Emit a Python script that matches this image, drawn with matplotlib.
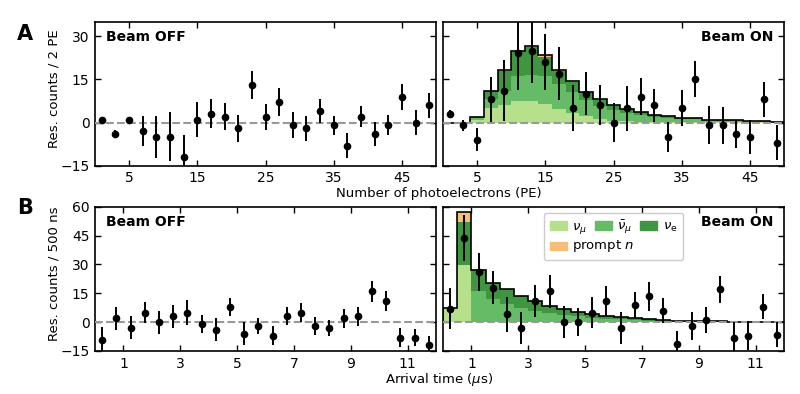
import numpy as np
import matplotlib
matplotlib.use("Agg")
import matplotlib.pyplot as plt
from matplotlib.patches import Patch

# -----------------------------
# DATA
# -----------------------------
pe_edges = np.arange(0, 51, 2)
pe_centers = pe_edges[:-1] + 1

t_edges = np.arange(0, 12.01, 0.5)
t_centers = t_edges[:-1] + 0.25

# A: residual counts vs PE
pe_off_y = [1, -4, 1, -3, -5, -5, -12, 1, 3, 2, -2, 13, 2, 7, -1, -2, 4, -1, -8, 2, -4, -1, 9, 0, 6]
pe_off_err = [0.5, 1.5, 0.5, 5.3, 7.3, 8.5, 7.7, 6.2, 5, 4.7, 4.6, 4.9, 4.5, 4.9, 4.5, 4.3, 4.2, 3.2, 4.3, 3.6, 4.3, 3.5, 4.5, 4.4, 4.4]
pe_on_y = [3, -1, -6, 8, 11, 24, 25, 21, 17, 5, 10, 6, 0, 5, 9, 6, -5, 5, 15, -1, -1, -4, -5, 8, -7]
pe_on_err = [1.5, 2, 4, 7.8, 10.6, 12.7, 11.3, 9.8, 9.1, 8, 7.5, 6.9, 6.6, 7.8, 6.5, 5.8, 5.3, 6.3, 6.2, 6.6, 6.3, 4.9, 6, 6, 6.1]

pe_numu = [0, 0, 1.0, 5.0, 6.1, 7.6, 7.6, 6.5, 4.7, 3.2, 2.1, 1.2, 0.6, 0.4, 0.3, 0.2, 0.15, 0.1, 0.1, 0.1, 0.05, 0.05, 0.05, 0.03, 0.02]
pe_numubar = [0, 0, 0.5, 3.0, 4.9, 8.4, 8.9, 9.5, 8.8, 7.3, 5.7, 4.4, 3.8, 3.0, 2.3, 1.8, 1.45, 1.1, 0.95, 0.65, 0.55, 0.45, 0.33, 0.23, 0.13]
pe_nue = [0, 0, 0.3, 3.0, 7.0, 8.5, 9.6, 6.9, 4.4, 3.6, 2.8, 2.35, 1.7, 1.2, 0.9, 0.7, 0.5, 0.4, 0.35, 0.25, 0.2, 0.2, 0.12, 0.09, 0.05]
pe_prompt_n = [0, 0, 0, 0, 0.1, 0.3, 0.4, 0.4, 0.3, 0.2, 0.1, 0.05, 0, 0, 0, 0, 0, 0, 0, 0, 0, 0, 0, 0, 0]

# B: residual counts vs arrival time
t_off_y = [-9.2, 2, -3, 5, 0, 3, 5, -1, -4, 8, -6, -2, -7, 3, 5, -2, -3, 2, 3, 16, 11, -8, -8, -12]
t_off_err = [6.5, 6, 6, 5.4, 6, 6, 6.3, 4.9, 6, 4.8, 6, 4.2, 4.8, 4.7, 5, 4.8, 4.2, 4.8, 4.8, 5.6, 5.3, 5, 4.3, 5]
t_on_y = [7, 43.7, 26, 18, 4, -3, 11, 16, 0, 0, 5, 11, -3, 9, 13.4, 6, -11.4, -2, 1, 17.2, -8, -7, 8, -6.5]
t_on_err = [10.6, 12, 10, 8.7, 9, 8.3, 8.2, 8.6, 8.4, 7.2, 8.3, 7.7, 8.3, 6.9, 7.5, 6.6, 7, 7.4, 6.8, 7, 8, 7.5, 6.5, 6.5]

t_numu = [7.5, 29.6, 0, 0, 0, 0, 0, 0, 0, 0, 0, 0, 0, 0, 0, 0, 0, 0, 0, 0, 0, 0, 0, 0]
t_numubar = [0, 0, 16.0, 11.8, 9.3, 7.5, 5.8, 4.8, 3.9, 3.1, 2.4, 1.8, 1.4, 1.05, 0.8, 0.62, 0.46, 0.34, 0.26, 0.2, 0.14, 0.11, 0.08, 0.06]
t_nue = [0, 22.4, 11.0, 8.7, 7.7, 6.1, 5.0, 3.8, 3.0, 2.4, 1.8, 1.4, 1.1, 0.85, 0.6, 0.48, 0.34, 0.26, 0.19, 0.15, 0.11, 0.09, 0.07, 0.04]
t_prompt_n = [0, 5.5, 0, 0, 0, 0, 0, 0, 0, 0, 0, 0, 0, 0, 0, 0, 0, 0, 0, 0, 0, 0, 0, 0]

c_numu = "#b6e08b"
c_numubar = "#66bb66"
c_nue = "#409640"
c_prompt = "#f6be78"


# -----------------------------
# HELPERS
# -----------------------------
def style_axes(ax, xticks, yticks, ylim, xlim):
    ax.set_xlim(*xlim)
    ax.set_ylim(*ylim)
    ax.set_xticks(xticks)
    ax.set_yticks(yticks)
    ax.tick_params(direction="in", top=True, right=True, length=4,
                   width=1, labelsize=10, pad=4)
    for s in ax.spines.values():
        s.set_linewidth(1.2)
    ax.axhline(0, color="#999999", ls="--", lw=1.5, zorder=3)


def stack(ax, edges, comps, colors):
    edges = np.asarray(edges)
    width = edges[1] - edges[0]
    bottom = np.zeros(len(edges) - 1)
    for vals, c in zip(comps, colors):
        vals = np.asarray(vals, dtype=float)
        ax.bar(edges[:-1], vals, width, bottom=bottom, align="edge",
               color=c, lw=0, zorder=1)
        bottom = bottom + vals
    ax.stairs(bottom, edges, color="k", lw=1.2, zorder=2)


def points(ax, x, y, err):
    ax.errorbar(x, y, yerr=err, fmt="o", color="k", ms=4.5,
                elinewidth=1.4, capsize=0, zorder=4)


# -----------------------------
# FIGURE
# -----------------------------
fig = plt.figure(figsize=(8, 3.94), dpi=100)

W, H = 800, 394
axw = 341 / W
ax_a_off = fig.add_axes([95 / W, 1 - 165.7 / H, axw, 144 / H])
ax_a_on = fig.add_axes([443 / W, 1 - 165.7 / H, axw, 144 / H])
ax_b_off = fig.add_axes([95 / W, 1 - 351 / H, axw, 144.3 / H])
ax_b_on = fig.add_axes([443 / W, 1 - 351 / H, axw, 144.3 / H])

# A
for ax in (ax_a_off, ax_a_on):
    style_axes(ax, [5, 15, 25, 35, 45], [-15, 0, 15, 30], (-15, 35), (0, 50))
ax_a_on.set_yticklabels([])

stack(ax_a_on, pe_edges, [pe_numu, pe_numubar, pe_nue, pe_prompt_n],
      [c_numu, c_numubar, c_nue, c_prompt])
points(ax_a_off, pe_centers, pe_off_y, pe_off_err)
points(ax_a_on, pe_centers, pe_on_y, pe_on_err)

# B
for ax in (ax_b_off, ax_b_on):
    style_axes(ax, [1, 3, 5, 7, 9, 11], [-15, 0, 15, 30, 45, 60], (-15, 60), (0, 12))
ax_b_on.set_yticklabels([])

stack(ax_b_on, t_edges, [t_numu, t_numubar, t_nue, t_prompt_n],
      [c_numu, c_numubar, c_nue, c_prompt])
points(ax_b_off, t_centers, t_off_y, t_off_err)
points(ax_b_on, t_centers, t_on_y, t_on_err)

# beam labels
for ax in (ax_a_off, ax_b_off):
    ax.text(0.032, 0.945, "Beam OFF", transform=ax.transAxes, ha="left",
            va="top", fontsize=10, fontweight="bold", zorder=5)
for ax in (ax_a_on, ax_b_on):
    ax.text(0.968, 0.945, "Beam ON", transform=ax.transAxes, ha="right",
            va="top", fontsize=10, fontweight="bold", zorder=5)

# legend: "prompt n" spills under the second column, so its label is
# written separately next to the orange patch
handles = [
    Patch(color=c_numu, label=r"$\nu_\mu$"),
    Patch(color=c_prompt, label=" "),
    Patch(color=c_numubar, label=r"$\bar{\nu}_\mu$"),
    Patch(color=c_nue, label=r"$\nu_\mathrm{e}$"),
]
leg = ax_b_on.legend(handles=handles, loc="upper center",
                     bbox_to_anchor=(0.5, 1.0), ncol=3,
                     fontsize=9.5, handlelength=1.3, handleheight=0.6,
                     handletextpad=0.4, columnspacing=0.6, labelspacing=0.35,
                     borderpad=0.45, borderaxespad=0.45, framealpha=1,
                     edgecolor="#cccccc")
leg.set_zorder(6)

fig.canvas.draw()
pbox = leg.get_patches()[1].get_window_extent()
fig.text(pbox.x1 + 5, (pbox.y0 + pbox.y1) / 2, r"prompt $n$",
         transform=None, ha="left", va="center", fontsize=9.5, zorder=7)

# axis labels
fig.text(54 / W, 1 - 89 / H, "Res. counts / 2 PE", rotation=90,
         ha="center", va="center", fontsize=9.5)
fig.text(54 / W, 1 - 274 / H, "Res. counts / 500 ns", rotation=90,
         ha="center", va="center", fontsize=9.5)
fig.text(439 / W, 1 - 193 / H, "Number of photoelectrons (PE)",
         ha="center", va="center", fontsize=9.5)
fig.text(439 / W, 1 - 379 / H, r"Arrival time ($\mu$s)",
         ha="center", va="center", fontsize=9.5)

# panel letters
fig.text(25 / W, 1 - 34.5 / H, "A", ha="center", va="center",
         fontsize=15, fontweight="bold")
fig.text(25 / W, 1 - 208 / H, "B", ha="center", va="center",
         fontsize=15, fontweight="bold")

fig.savefig("out.png", dpi=100)
